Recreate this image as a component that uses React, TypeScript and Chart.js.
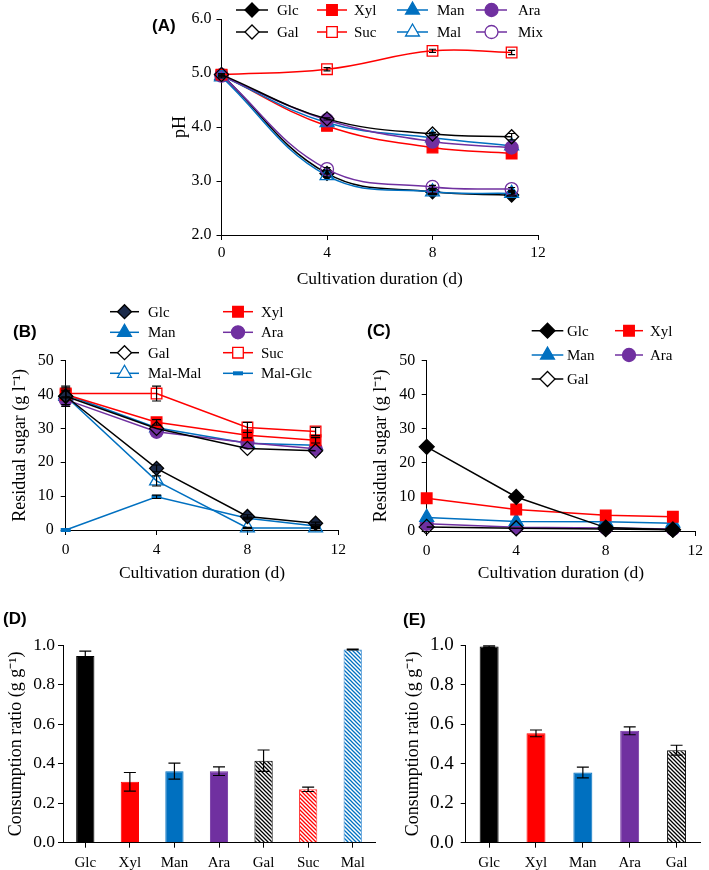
import React, { useEffect, useRef } from 'react';
import { Chart, registerables } from 'chart.js';

Chart.register(...registerables);

// ---------------- data ----------------
const days = [0, 4, 8, 11];

// (A) pH
const phGlc = [4.97, 3.14, 2.80, 2.74];
const phXyl = [4.96, 4.02, 3.62, 3.51];
const phMan = [4.95, 4.08, 3.80, 3.65];
const phAra = [4.95, 4.13, 3.73, 3.62];
const phGal = [4.97, 4.15, 3.87, 3.82];
const phSuc = [4.97, 5.07, 5.41, 5.38];
const phMal = [4.93, 3.10, 2.80, 2.77];
const phMix = [4.96, 3.22, 2.89, 2.85];
const phSucErr = [0.02, 0.03, 0.03, 0.04];
const phGalErr = [0.02, 0.02, 0.03, 0.06];
const phSmallErr = [0.02, 0.03, 0.03, 0.03];

// (B) residual sugar, single sugars
const bGlc = [39.5, 18.2, 4.0, 2.0];
const bXyl = [40.0, 31.8, 28.0, 26.5];
const bMan = [40.0, 30.2, 25.6, 25.0];
const bAra = [38.5, 29.0, 25.8, 24.0];
const bGal = [39.5, 30.0, 24.1, 23.4];
const bSuc = [40.3, 40.3, 30.3, 29.1];
const bMalMal = [39.5, 14.5, 0.6, 0.6];
const bMalGlc = [0.0, 9.8, 3.5, 1.2];
const bGlcErr = [2.5, 1.0, 0.5, 0.3];
const bXylErr = [1.0, 0.8, 0.8, 0.8];
const bSucErr = [1.0, 2.2, 1.5, 1.2];
const bMalMalErr = [3.0, 1.5, 0.2, 0.2];
const bMalGlcErr = [0, 0.5, 0.3, 0.2];

// (C) residual sugar, mixture
const cGlc = [24.7, 10.0, 1.0, 0.4];
const cXyl = [9.6, 6.3, 4.6, 4.2];
const cMan = [4.0, 2.8, 2.7, 2.3];
const cAra = [2.1, 1.1, 0.9, 0.6];
const cGal = [1.2, 0.8, 0.6, 0.4];

// (D) consumption ratio, single sugars
const dLabels = ['Glc', 'Xyl', 'Man', 'Ara', 'Gal', 'Suc', 'Mal'];
const dValues = [0.944, 0.308, 0.362, 0.362, 0.415, 0.27, 0.977];
const dErrors = [0.025, 0.047, 0.04, 0.022, 0.054, 0.011, 0.002];

// (E) consumption ratio, mixture
const eLabels = ['Glc', 'Xyl', 'Man', 'Ara', 'Gal'];
const eValues = [0.992, 0.553, 0.355, 0.566, 0.468];
const eErrors = [0.004, 0.017, 0.027, 0.02, 0.025];

// ---------------- styles ----------------
const SERIF = "'Liberation Serif', 'Times New Roman', serif";
const SANS = "'Liberation Sans', Arial, sans-serif";
const BLACK = '#000000';
const RED = '#ff0000';
const BLUE = '#0070c0';
const PURPLE = '#7030a0';
const NAVY = '#1b2a4a';
const CLEAR = 'rgba(255,255,255,0)';

Chart.defaults.font.family = SERIF;
Chart.defaults.color = '#000';

type Ser = {
  label: string;
  values: number[];
  errors?: number[];
  color: string;
  style: string;
  fill: string;
  radius?: number;
  pbw?: number;
};

function drawMarker(ctx: CanvasRenderingContext2D, style: string, x: number, y: number, r: number, fill: string, stroke: string, lw: number) {
  ctx.save();
  if (style === 'line') {
    ctx.strokeStyle = stroke;
    ctx.lineWidth = lw;
    ctx.beginPath();
    ctx.moveTo(x - r, y);
    ctx.lineTo(x + r, y);
    ctx.stroke();
    ctx.restore();
    return;
  }
  ctx.beginPath();
  if (style === 'rectRot') {
    ctx.moveTo(x - r, y);
    ctx.lineTo(x, y - r);
    ctx.lineTo(x + r, y);
    ctx.lineTo(x, y + r);
  } else if (style === 'rect') {
    const s = r * Math.SQRT1_2;
    ctx.rect(x - s, y - s, 2 * s, 2 * s);
  } else if (style === 'triangle') {
    ctx.moveTo(x, y - r);
    ctx.lineTo(x + r * 0.866, y + r * 0.5);
    ctx.lineTo(x - r * 0.866, y + r * 0.5);
  } else {
    ctx.arc(x, y, r, 0, Math.PI * 2);
  }
  ctx.closePath();
  ctx.fillStyle = fill;
  ctx.fill();
  ctx.strokeStyle = stroke;
  ctx.lineWidth = lw;
  ctx.stroke();
  ctx.restore();
}

type LegendCol = { x1: number; x2: number; tx: number };
type Extras = {
  panel: { text: string; x: number; y: number };
  legend?: { items: Ser[]; rows: number[]; cols: LegendCol[]; perRow: number };
};

function extrasPlugin(ox: number, oy: number, ex: Extras) {
  return {
    id: 'extras',
    afterDraw(chart: any) {
      const ctx: CanvasRenderingContext2D = chart.ctx;
      ctx.save();
      ctx.fillStyle = '#000';
      ctx.textBaseline = 'middle';
      ctx.textAlign = 'left';
      ctx.font = `bold 17px ${SANS}`;
      ctx.fillText(ex.panel.text, ex.panel.x - ox, ex.panel.y - oy);
      if (ex.legend) {
        const lg = ex.legend;
        ctx.font = `15px ${SERIF}`;
        lg.items.forEach((it, i) => {
          const row = Math.floor(i / lg.perRow);
          const col = lg.cols[i % lg.perRow];
          const y = lg.rows[row] - oy;
          const x1 = col.x1 - ox;
          const x2 = col.x2 - ox;
          ctx.strokeStyle = it.color;
          ctx.lineWidth = 1.5;
          ctx.beginPath();
          ctx.moveTo(x1, y);
          ctx.lineTo(x2, y);
          ctx.stroke();
          const legFill = it.fill === CLEAR ? '#ffffff' : it.fill;
          drawMarker(ctx, it.style, (x1 + x2) / 2, y, it.radius ?? 7, legFill, it.style === 'rectRot' && it.fill !== CLEAR ? BLACK : it.color, it.pbw ?? 1.3);
          ctx.fillStyle = '#000';
          ctx.fillText(it.label, col.tx - ox, y + 1);
        });
      }
      ctx.restore();
    },
  };
}

function errorBarPlugin(cap: number) {
  return {
    id: 'errbars',
    afterDatasetsDraw(chart: any) {
      const ctx: CanvasRenderingContext2D = chart.ctx;
      const ys = chart.scales.y;
      ctx.save();
      ctx.strokeStyle = '#000';
      ctx.lineWidth = 1.2;
      chart.data.datasets.forEach((ds: any, i: number) => {
        const errs: number[] | undefined = ds.errorBars;
        if (!errs) return;
        const meta = chart.getDatasetMeta(i);
        meta.data.forEach((el: any, j: number) => {
          const e = errs[j];
          if (!e) return;
          const raw = ds.data[j];
          const v = typeof raw === 'number' ? raw : raw.y;
          const x = el.x;
          const yt = ys.getPixelForValue(v + e);
          const yb = ys.getPixelForValue(v - e);
          ctx.beginPath();
          ctx.moveTo(x, yt);
          ctx.lineTo(x, yb);
          ctx.moveTo(x - cap, yt);
          ctx.lineTo(x + cap, yt);
          ctx.moveTo(x - cap, yb);
          ctx.lineTo(x + cap, yb);
          ctx.stroke();
        });
      });
      ctx.restore();
    },
  };
}

type Box = { L: number; T: number; W: number; H: number };
type Area = { x0: number; y0: number; x1: number; y1: number; wy: number; hx: number };

function pad(b: Box, a: Area) {
  return {
    left: a.x0 - b.L - a.wy,
    top: a.y0 - b.T,
    right: b.L + b.W - a.x1,
    bottom: b.T + b.H - a.y1 - a.hx,
  };
}

const tickGrid = { display: true, drawOnChartArea: false, drawTicks: true, tickLength: 5, color: '#000', lineWidth: 1 };
const axisBorder = { display: true, color: '#000', width: 1 };

function yScale(a: Area, min: number, max: number, step: number, dec: number, tickSize: number, tickPad: number, title: string, titleSize: number) {
  return {
    type: 'linear',
    min,
    max,
    ticks: {
      stepSize: step,
      font: { family: SERIF, size: tickSize },
      color: '#000',
      padding: tickPad,
      callback: (v: any) => Number(v).toFixed(dec),
    },
    grid: tickGrid,
    border: axisBorder,
    title: { display: true, text: title, font: { family: SERIF, size: titleSize }, color: '#000', padding: 0 },
    afterFit: (s: any) => {
      s.width = a.wy;
    },
  };
}

function lineConfig(b: Box, a: Area, series: Ser[], tension: number, yMin: number, yMax: number, yStep: number, dec: number, yTickSize: number, yTickPad: number, yTitle: string, ex: Extras, cap: number, xTickPad: number) {
  return {
    type: 'line',
    data: {
      datasets: series.map((s) => ({
        label: s.label,
        data: days.map((d, i) => ({ x: d, y: s.values[i] })),
        borderColor: s.color,
        backgroundColor: s.color,
        borderWidth: 1.5,
        tension,
        pointStyle: s.style,
        pointRadius: s.radius ?? 7,
        pointBackgroundColor: s.fill,
        pointBorderColor: s.style === 'rectRot' && s.fill !== CLEAR ? BLACK : s.color,
        pointBorderWidth: s.pbw ?? 1.3,
        clip: false,
        errorBars: s.errors,
      })),
    },
    options: {
      responsive: false,
      animation: false,
      devicePixelRatio: 1,
      events: [],
      layout: { padding: pad(b, a) },
      plugins: { legend: { display: false }, tooltip: { enabled: false } },
      scales: {
        x: {
          type: 'linear',
          min: 0,
          max: 12,
          ticks: { stepSize: 4, font: { family: SERIF, size: 15.5 }, color: '#000', padding: xTickPad },
          grid: tickGrid,
          border: axisBorder,
          title: { display: true, text: 'Cultivation duration (d)', font: { family: SERIF, size: 17.5 }, color: '#000', padding: 0 },
          afterFit: (s: any) => {
            s.height = a.hx;
          },
        },
        y: yScale(a, yMin, yMax, yStep, dec, yTickSize, yTickPad, yTitle, 18),
      },
    },
    plugins: [errorBarPlugin(cap), extrasPlugin(b.L, b.T, ex)],
  };
}

function hatch(ctx: CanvasRenderingContext2D, color: string) {
  const c = document.createElement('canvas');
  c.width = 4;
  c.height = 4;
  const g = c.getContext('2d')!;
  g.fillStyle = '#ffffff';
  g.fillRect(0, 0, 4, 4);
  g.strokeStyle = color;
  g.lineWidth = 1.3;
  g.beginPath();
  g.moveTo(-1, -1);
  g.lineTo(5, 5);
  g.moveTo(-1, 3);
  g.lineTo(1, 5);
  g.moveTo(3, -1);
  g.lineTo(5, 1);
  g.stroke();
  return ctx.createPattern(c, 'repeat');
}

function barConfig(b: Box, a: Area, labels: string[], values: number[], errors: number[], colors: any[], borders: string[], yTickSize: number, yTickPad: number, ex: Extras, barPct: number) {
  return {
    type: 'bar',
    data: {
      labels,
      datasets: [
        {
          data: values,
          backgroundColor: colors,
          borderColor: borders,
          borderWidth: 1,
          barPercentage: barPct,
          categoryPercentage: 1,
          errorBars: errors,
        },
      ],
    },
    options: {
      responsive: false,
      animation: false,
      devicePixelRatio: 1,
      events: [],
      layout: { padding: pad(b, a) },
      plugins: { legend: { display: false }, tooltip: { enabled: false } },
      scales: {
        x: {
          type: 'category',
          offset: true,
          ticks: { font: { family: SERIF, size: 15 }, color: '#000', padding: 6, autoSkip: false, maxRotation: 0 },
          grid: { ...tickGrid, offset: false },
          border: axisBorder,
          afterFit: (s: any) => {
            s.height = a.hx;
          },
        },
        y: yScale(a, 0, 1, 0.2, 1, yTickSize, yTickPad, 'Consumption ratio (g g⁻¹)', 18),
      },
    },
    plugins: [errorBarPlugin(6), extrasPlugin(b.L, b.T, ex)],
  };
}

// ---------------- panels ----------------
const boxA: Box = { L: 140, T: 0, W: 430, H: 300 };
const areaA: Area = { x0: 221.5, y0: 19, x1: 538, y1: 235, wy: 52, hx: 54.5 };
const boxB: Box = { L: 0, T: 300, W: 360, H: 290 };
const areaB: Area = { x0: 65.7, y0: 360.7, x1: 338.3, y1: 530, wy: 56.5, hx: 53.5 };
const boxC: Box = { L: 360, T: 300, W: 349, H: 290 };
const areaC: Area = { x0: 426.7, y0: 360.7, x1: 698.3, y1: 531, wy: 55.8, hx: 52.5 };
const boxD: Box = { L: 0, T: 590, W: 380, H: 280 };
const areaD: Area = { x0: 63, y0: 645, x1: 375, y1: 842.7, wy: 57.8, hx: 27.3 };
const boxE: Box = { L: 380, T: 590, W: 329, H: 280 };
const areaE: Area = { x0: 465.7, y0: 645, x1: 700, y1: 842.7, wy: 63.5, hx: 27.3 };

function buildA() {
  const legendItems: Ser[] = [
    { label: 'Glc', values: phGlc, color: BLACK, style: 'rectRot', fill: BLACK },
    { label: 'Xyl', values: phXyl, color: RED, style: 'rect', fill: RED, radius: 7.5 },
    { label: 'Man', values: phMan, color: BLUE, style: 'triangle', fill: BLUE, radius: 8 },
    { label: 'Ara', values: phAra, color: PURPLE, style: 'circle', fill: PURPLE, radius: 6.5 },
    { label: 'Gal', values: phGal, errors: phGalErr, color: BLACK, style: 'rectRot', fill: CLEAR },
    { label: 'Suc', values: phSuc, errors: phSucErr, color: RED, style: 'rect', fill: CLEAR, radius: 7.5 },
    { label: 'Mal', values: phMal, errors: phSmallErr, color: BLUE, style: 'triangle', fill: CLEAR, radius: 8 },
    { label: 'Mix', values: phMix, errors: phSmallErr, color: PURPLE, style: 'circle', fill: CLEAR, radius: 6.5 },
  ];
  const drawOrder = [4, 5, 7, 6, 3, 2, 1, 0].map((i) => legendItems[i]);
  return lineConfig(boxA, areaA, drawOrder, 0.4, 2, 6, 1, 1, 16, 5, 'pH', {
    panel: { text: '(A)', x: 152, y: 26 },
    legend: {
      items: legendItems,
      rows: [10, 32],
      cols: [
        { x1: 236, x2: 268, tx: 277 },
        { x1: 317, x2: 347, tx: 354 },
        { x1: 397, x2: 428, tx: 437 },
        { x1: 476, x2: 507, tx: 518 },
      ],
      perRow: 4,
    },
  }, 3.5, 4);
}

function buildB() {
  const items: Ser[] = [
    { label: 'Glc', values: bGlc, errors: bGlcErr, color: BLACK, style: 'rectRot', fill: NAVY },
    { label: 'Xyl', values: bXyl, errors: bXylErr, color: RED, style: 'rect', fill: RED, radius: 7.5 },
    { label: 'Man', values: bMan, color: BLUE, style: 'triangle', fill: BLUE, radius: 8 },
    { label: 'Ara', values: bAra, color: PURPLE, style: 'circle', fill: PURPLE, radius: 6.5 },
    { label: 'Gal', values: bGal, color: BLACK, style: 'rectRot', fill: CLEAR },
    { label: 'Suc', values: bSuc, errors: bSucErr, color: RED, style: 'rect', fill: CLEAR, radius: 7.5 },
    { label: 'Mal-Mal', values: bMalMal, errors: bMalMalErr, color: BLUE, style: 'triangle', fill: CLEAR, radius: 8 },
    { label: 'Mal-Glc', values: bMalGlc, errors: bMalGlcErr, color: BLUE, style: 'line', fill: BLUE, radius: 5, pbw: 4 },
  ];
  const drawOrder = [4, 0, 5, 1, 3, 2, 6, 7].map((i) => items[i]);
  return lineConfig(boxB, areaB, drawOrder, 0, 0, 50, 10, 0, 16, 7, 'Residual sugar (g l⁻¹)', {
    panel: { text: '(B)', x: 13, y: 332 },
    legend: {
      items,
      rows: [311.7, 332.3, 352.7, 373.3],
      cols: [
        { x1: 110, x2: 139, tx: 148 },
        { x1: 223, x2: 253, tx: 261 },
      ],
      perRow: 2,
    },
  }, 4.5, 6);
}

function buildC() {
  const items: Ser[] = [
    { label: 'Glc', values: cGlc, color: BLACK, style: 'rectRot', fill: BLACK, radius: 7.5 },
    { label: 'Xyl', values: cXyl, color: RED, style: 'rect', fill: RED, radius: 7.5 },
    { label: 'Man', values: cMan, color: BLUE, style: 'triangle', fill: BLUE, radius: 8 },
    { label: 'Ara', values: cAra, color: PURPLE, style: 'circle', fill: PURPLE, radius: 6.5 },
    { label: 'Gal', values: cGal, color: BLACK, style: 'rectRot', fill: CLEAR, radius: 7.5 },
  ];
  const drawOrder = [4, 0, 1, 2, 3].map((i) => items[i]);
  return lineConfig(boxC, areaC, drawOrder, 0, 0, 50, 10, 0, 16, 6.5, 'Residual sugar (g l⁻¹)', {
    panel: { text: '(C)', x: 367, y: 331 },
    legend: {
      items,
      rows: [330.7, 355, 379],
      cols: [
        { x1: 531.7, x2: 563.3, tx: 567 },
        { x1: 615, x2: 643, tx: 650 },
      ],
      perRow: 2,
    },
  }, 4, 6);
}

function buildD(ctx: CanvasRenderingContext2D) {
  const colors = [BLACK, RED, BLUE, PURPLE, hatch(ctx, BLACK), hatch(ctx, RED), hatch(ctx, BLUE)];
  const borders = [BLACK, RED, BLUE, PURPLE, BLACK, '#ff4040', '#3d8fd6'];
  return barConfig(boxD, areaD, dLabels, dValues, dErrors, colors, borders, 17.5, 3, { panel: { text: '(D)', x: 3, y: 619 } }, 0.41);
}

function buildE(ctx: CanvasRenderingContext2D) {
  const colors = [BLACK, RED, BLUE, PURPLE, hatch(ctx, BLACK)];
  const borders = [BLACK, RED, BLUE, PURPLE, BLACK];
  return barConfig(boxE, areaE, eLabels, eValues, eErrors, colors, borders, 19, 7, { panel: { text: '(E)', x: 403, y: 620 } }, 0.405);
}

function Panel({ box, build }: { box: Box; build: (ctx: CanvasRenderingContext2D) => any }) {
  const ref = useRef<HTMLCanvasElement>(null);
  useEffect(() => {
    const canvas = ref.current!;
    const ctx = canvas.getContext('2d')!;
    const chart = new Chart(canvas, build(ctx));
    return () => chart.destroy();
  }, []);
  return (
    <canvas
      ref={ref}
      width={box.W}
      height={box.H}
      style={{ position: 'absolute', left: box.L, top: box.T, width: box.W, height: box.H }}
    />
  );
}

export default function App() {
  return (
    <div style={{ position: 'absolute', left: 0, top: 0, width: 709, height: 870, background: '#fff' }}>
      <Panel box={boxA} build={() => buildA()} />
      <Panel box={boxB} build={() => buildB()} />
      <Panel box={boxC} build={() => buildC()} />
      <Panel box={boxD} build={(ctx) => buildD(ctx)} />
      <Panel box={boxE} build={(ctx) => buildE(ctx)} />
    </div>
  );
}
